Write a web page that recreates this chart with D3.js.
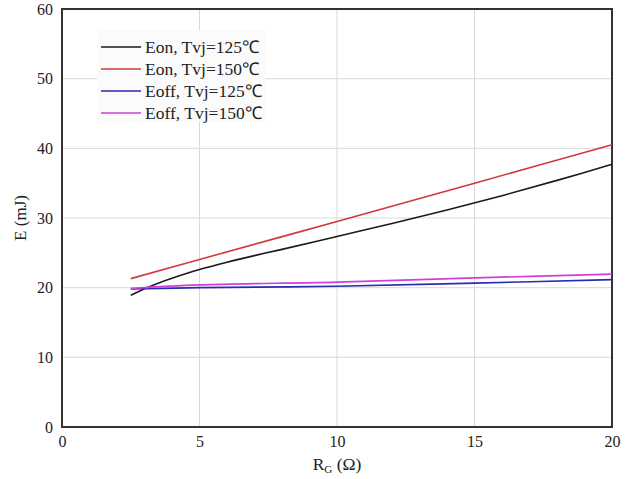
<!DOCTYPE html>
<html><head><meta charset="utf-8">
<script src="https://cdn.jsdelivr.net/npm/d3@7"></script>
<style>body{margin:0;background:#fff}svg{display:block}</style>
</head><body>
<script>
const xTicks = [0, 5, 10, 15, 20];
const yTicks = [0, 10, 20, 30, 40, 50, 60];
const seriesNames = ["Eon, Tvj=125\u2103", "Eon, Tvj=150\u2103", "Eoff, Tvj=125\u2103", "Eoff, Tvj=150\u2103"];
const seriesColors = ["#1a1a1a", "#d03a3a", "#2b2bb0", "#d040d8"];
const rgEon125 = [2.5, 3, 3.5, 4, 5, 6, 7, 8, 10, 12, 14, 16, 18, 20];
const eon125 = [18.9, 19.85, 20.65, 21.35, 22.6, 23.65, 24.6, 25.5, 27.35, 29.2, 31.15, 33.2, 35.4, 37.7];
const rgEon150 = [2.5, 5, 10, 15, 20];
const eon150 = [21.3, 24.05, 29.5, 35.0, 40.5];
const rgEoff = [2.5, 5, 10, 15, 20];
const eoff125 = [19.8, 20.0, 20.2, 20.65, 21.15];
const eoff150 = [19.9, 20.4, 20.8, 21.4, 21.95];
const allSeries = [[rgEon125, eon125], [rgEon150, eon150], [rgEoff, eoff125], [rgEoff, eoff150]];

const W = 632, H = 479;
const m = {left: 62, right: 20, top: 9, bottom: 52};
const svg = d3.select("body").append("svg").attr("width", W).attr("height", H);
const x = d3.scaleLinear().domain([0, 20]).range([m.left, W - m.right]);
const y = d3.scaleLinear().domain([0, 60]).range([H - m.bottom, m.top]);
const font = "'Liberation Serif', 'Times New Roman', serif";

// grid
svg.append("g").selectAll("line").data(xTicks).join("line")
  .attr("x1", d => x(d)).attr("x2", d => x(d)).attr("y1", y(0)).attr("y2", y(60))
  .attr("stroke", "#d9d9d9").attr("stroke-width", 1);
svg.append("g").selectAll("line").data(yTicks).join("line")
  .attr("x1", x(0)).attr("x2", x(20)).attr("y1", d => y(d)).attr("y2", d => y(d))
  .attr("stroke", "#d9d9d9").attr("stroke-width", 1);

// axes
const xAxis = svg.append("g").attr("transform", `translate(0,${y(0)})`)
  .call(d3.axisBottom(x).tickValues(xTicks).tickSize(0).tickPadding(9).tickFormat(d3.format("d")));
const yAxis = svg.append("g").attr("transform", `translate(${x(0)},0)`)
  .call(d3.axisLeft(y).tickValues(yTicks).tickSize(0).tickPadding(9).tickFormat(d3.format("d")));
[xAxis, yAxis].forEach(a => {
  a.select(".domain").remove();
  a.selectAll("text").attr("font-family", font).attr("font-size", 16).attr("fill", "#222");
});

// frame
svg.append("rect").attr("x", x(0)).attr("y", y(60)).attr("width", x(20) - x(0)).attr("height", y(0) - y(60))
  .attr("fill", "none").attr("stroke", "#333").attr("stroke-width", 2);

// lines
const line = d3.line().curve(d3.curveCatmullRom);
allSeries.forEach(([xs, ys], k) => {
  svg.append("path").attr("d", line(xs.map((v, i) => [x(v), y(ys[i])]))).attr("fill", "none")
    .attr("stroke", seriesColors[k]).attr("stroke-width", 1.6);
});

// legend
const lg = svg.append("g").attr("transform", "translate(97,30)");
lg.append("rect").attr("width", 168).attr("height", 92).attr("fill", "#fbfbfb");
seriesNames.forEach((n, k) => {
  const yy = 17 + k * 22;
  lg.append("line").attr("x1", 4).attr("x2", 44).attr("y1", yy).attr("y2", yy)
    .attr("stroke", seriesColors[k]).attr("stroke-width", 1.6);
  lg.append("text").attr("x", 48).attr("y", yy + 6).text(n)
    .attr("font-family", font).attr("font-size", 17.5).attr("fill", "#222");
});

// axis titles
svg.append("text").attr("transform", `translate(26,${(y(0) + y(60)) / 2}) rotate(-90)`)
  .attr("text-anchor", "middle").attr("font-family", font).attr("font-size", 17).attr("fill", "#222")
  .text("E (mJ)");
const xt = svg.append("text").attr("x", x(10)).attr("y", 470).attr("text-anchor", "middle")
  .attr("font-family", font).attr("font-size", 17.5).attr("fill", "#222");
xt.append("tspan").text("R");
xt.append("tspan").attr("font-size", 11).attr("dy", 3).text("G");
xt.append("tspan").attr("dy", -3).text(" (\u03A9)");
</script>
</body></html>
